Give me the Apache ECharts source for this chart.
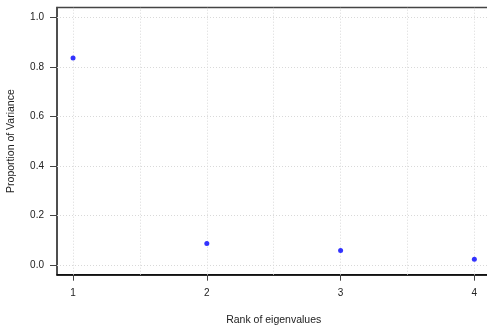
<!DOCTYPE html>
<html>
<head>
<meta charset="utf-8">
<script src="https://cdn.jsdelivr.net/npm/echarts@6/dist/echarts.min.js"></script>
<style>
html,body{margin:0;padding:0;background:#fff;}
#c{width:487px;height:331px;}
</style>
</head>
<body>
<div id="c"></div>
<script>
// Data
const ranks = [1, 2, 3, 4];
const proportions = [0.836, 0.086, 0.058, 0.022];
const xTicks = [1, 2, 3, 4];
const yTicks = [0, 0.2, 0.4, 0.6, 0.8, 1.0];
const xGrid = [1, 1.5, 2, 2.5, 3, 3.5, 4];
const yGrid = [0, 0.2, 0.4, 0.6, 0.8, 1.0];
const xLabel = 'Rank of eigenvalues';
const yLabel = 'Proportion of Variance';

const font = '"Liberation Sans", Arial, Helvetica, sans-serif';
const chart = echarts.init(document.getElementById('c'), null, {renderer: 'canvas'});

const gridLineStyle = {color: '#d9d9d9', type: [1, 2], width: 1};
const markData = xGrid.map(v => ({xAxis: v})).concat(yGrid.map(v => ({yAxis: v})));

chart.setOption({
  animation: false,
  backgroundColor: '#fff',
  grid: {
    left: 57, top: 7.5, width: 433.4, height: 267.2,
    containLabel: false, outerBoundsMode: 'none',
    show: true, borderColor: '#444', borderWidth: 1.5, backgroundColor: 'transparent'
  },
  xAxis: {
    type: 'value', min: 0.88, max: 4.12,
    name: xLabel, nameLocation: 'middle', nameGap: 40,
    nameTextStyle: {fontFamily: font, fontSize: 10.5, color: '#222'},
    axisLine: {show: true, onZero: false, lineStyle: {color: '#000', width: 1.5}},
    axisTick: {show: true, inside: false, length: 6, customValues: xTicks, lineStyle: {color: '#444', width: 1}},
    axisLabel: {show: true, margin: 14, customValues: xTicks, fontFamily: font, fontSize: 10, color: '#222',
      formatter: v => String(v)},
    splitLine: {show: false}
  },
  yAxis: {
    type: 'value', min: -0.04, max: 1.04,
    name: yLabel, nameLocation: 'middle', nameGap: 40,
    nameTextStyle: {fontFamily: font, fontSize: 10.5, color: '#222'},
    axisLine: {show: true, onZero: false, lineStyle: {color: '#444', width: 1.5}},
    axisTick: {show: true, inside: false, length: 7, customValues: yTicks, lineStyle: {color: '#444', width: 1}},
    axisLabel: {show: true, margin: 13, customValues: yTicks, fontFamily: font, fontSize: 10, color: '#222',
      formatter: v => v.toFixed(1)},
    splitLine: {show: false}
  },
  series: [{
    type: 'scatter',
    data: ranks.map((r, i) => [r, proportions[i]]),
    symbol: 'circle',
    symbolSize: 5,
    itemStyle: {color: '#0000ff'},
    z: 5,
    markLine: {
      silent: true,
      symbol: 'none',
      label: {show: false},
      lineStyle: gridLineStyle,
      emphasis: {disabled: true},
      data: markData,
      z: 1
    }
  }]
});
</script>
</body>
</html>
